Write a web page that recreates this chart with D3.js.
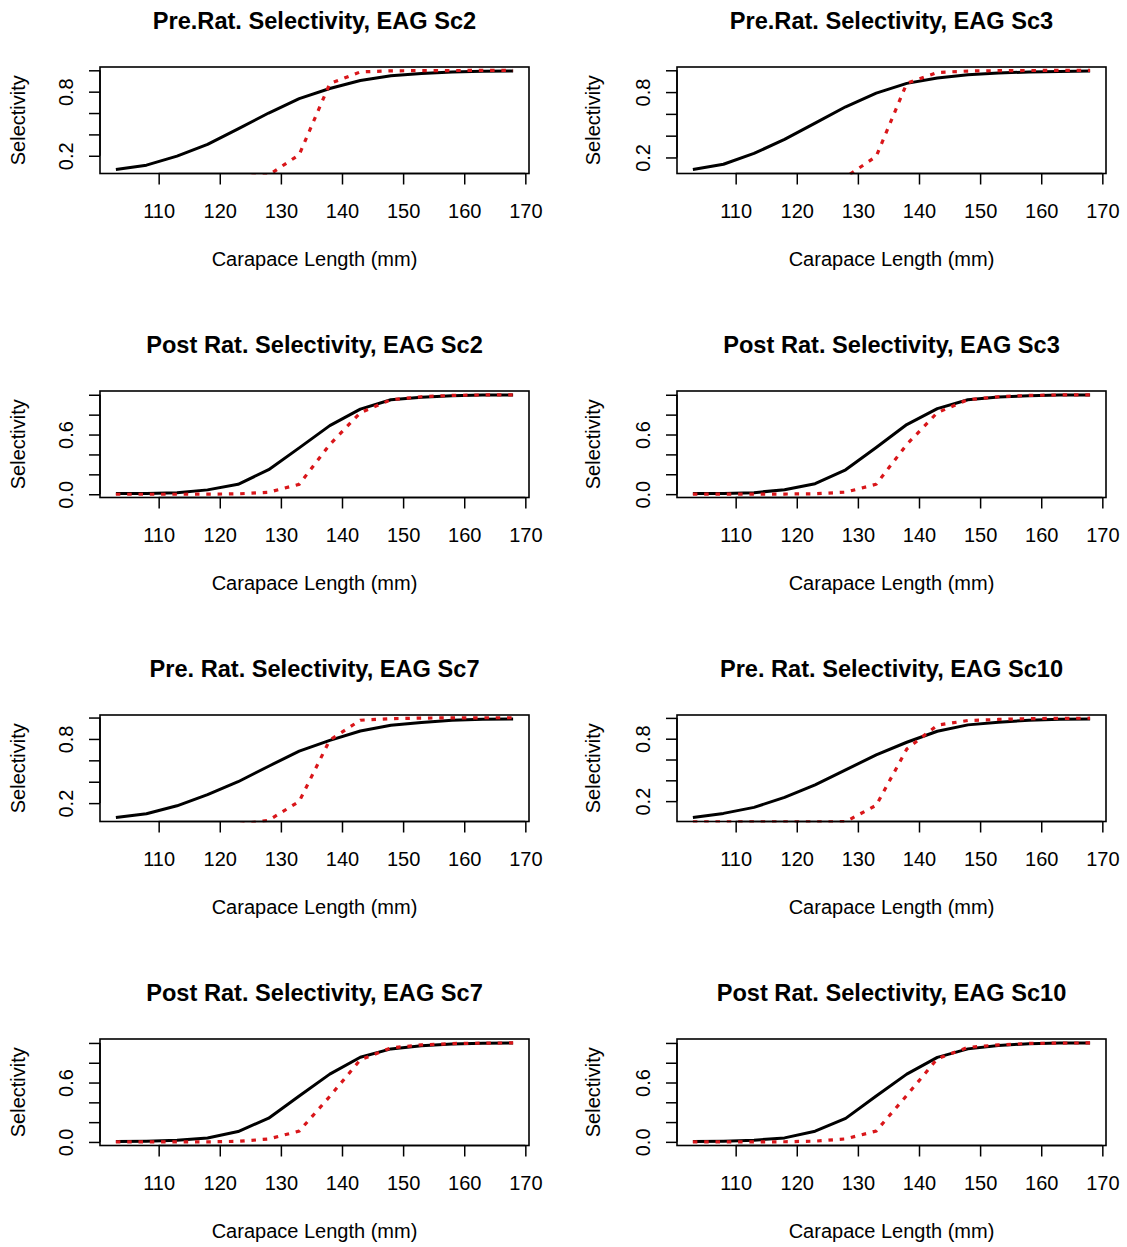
<!DOCTYPE html>
<html>
<head>
<meta charset="utf-8">
<script src="https://cdn.jsdelivr.net/npm/d3@7"></script>
<style>
  body { margin: 0; background: #fff; }
  svg { display: block; background: #fff; }
  text { font-family: "Liberation Sans", Arial, Helvetica, sans-serif; fill: #000; }
</style>
</head>
<body>
<svg id="chart" width="1127" height="1247"></svg>
<script>
// ---------------- data ----------------
const lengths = [103, 108, 113, 118, 123, 128, 133, 138, 143, 148, 153, 158, 163, 168];

const xTicks = [110, 120, 130, 140, 150, 160, 170];
const preYTicks = [0.2, 0.4, 0.6, 0.8, 1.0];
const preYLabels = [0.2, 0.8];
const postYTicks = [0.0, 0.2, 0.4, 0.6, 0.8, 1.0];
const postYLabels = [0.0, 0.6];

const panelTitles = [
  "Pre.Rat. Selectivity, EAG Sc2",
  "Pre.Rat. Selectivity, EAG Sc3",
  "Post Rat. Selectivity, EAG Sc2",
  "Post Rat. Selectivity, EAG Sc3",
  "Pre. Rat. Selectivity, EAG Sc7",
  "Pre. Rat. Selectivity, EAG Sc10",
  "Post Rat. Selectivity, EAG Sc7",
  "Post Rat. Selectivity, EAG Sc10"
];
const xAxisTitle = "Carapace Length (mm)";
const yAxisTitle = "Selectivity";

// black solid lines
const preSc2Black  = [0.071, 0.112, 0.197, 0.307, 0.452, 0.600, 0.735, 0.830, 0.905, 0.950, 0.970, 0.983, 0.990, 0.994];
const preSc3Black  = [0.089, 0.138, 0.237, 0.366, 0.515, 0.665, 0.790, 0.880, 0.930, 0.958, 0.975, 0.985, 0.990, 0.994];
const postSc2Black = [0.007, 0.007, 0.014, 0.044, 0.100, 0.247, 0.466, 0.690, 0.855, 0.950, 0.976, 0.990, 0.997, 0.998];
const postSc3Black = [0.006, 0.007, 0.015, 0.045, 0.105, 0.245, 0.470, 0.700, 0.860, 0.950, 0.977, 0.990, 0.997, 0.998];
const preSc7Black  = [0.065, 0.100, 0.175, 0.280, 0.400, 0.545, 0.686, 0.787, 0.874, 0.928, 0.953, 0.975, 0.984, 0.987];
const preSc10Black = [0.042, 0.082, 0.140, 0.236, 0.357, 0.500, 0.645, 0.766, 0.872, 0.933, 0.958, 0.978, 0.987, 0.990];
const postSc7Black = [0.004, 0.007, 0.016, 0.040, 0.105, 0.240, 0.465, 0.685, 0.855, 0.940, 0.972, 0.990, 0.998, 1.000];
const postSc10Black= [0.003, 0.007, 0.017, 0.040, 0.108, 0.237, 0.464, 0.685, 0.854, 0.940, 0.973, 0.993, 1.000, 1.000];

// red dotted lines
const preSc2Red   = [0.000, 0.000, 0.000, 0.000, 0.000, 0.020, 0.210, 0.875, 0.985, 0.995, 0.997, 0.998, 0.999, 1.000];
const preSc3Red   = [0.000, 0.000, 0.000, 0.000, 0.000, 0.020, 0.210, 0.880, 0.980, 0.993, 0.997, 0.998, 0.999, 1.000];
const postSc2Red  = [0.000, 0.000, 0.000, 0.001, 0.004, 0.020, 0.100, 0.500, 0.820, 0.950, 0.980, 0.993, 0.998, 0.999];
const postSc3Red  = [0.000, 0.000, 0.000, 0.001, 0.004, 0.020, 0.100, 0.500, 0.820, 0.950, 0.980, 0.993, 0.998, 0.999];
const preSc7Red   = [0.000, 0.000, 0.000, 0.000, 0.000, 0.040, 0.216, 0.790, 0.975, 0.990, 0.995, 0.997, 0.998, 0.998];
const preSc10Red  = [0.000, 0.000, 0.000, 0.000, 0.000, 0.003, 0.160, 0.700, 0.930, 0.975, 0.985, 0.993, 0.996, 0.997];
const postSc7Red  = [0.000, 0.000, 0.000, 0.001, 0.006, 0.030, 0.110, 0.460, 0.830, 0.950, 0.980, 0.994, 0.998, 1.000];
const postSc10Red = [0.000, 0.000, 0.000, 0.001, 0.007, 0.030, 0.110, 0.470, 0.840, 0.955, 0.980, 0.995, 0.999, 1.000];

// table built from the arrays above
const panels = [
  { title: panelTitles[0], black: preSc2Black,   red: preSc2Red,   yTicks: preYTicks,  yLabels: preYLabels },
  { title: panelTitles[1], black: preSc3Black,   red: preSc3Red,   yTicks: preYTicks,  yLabels: preYLabels },
  { title: panelTitles[2], black: postSc2Black,  red: postSc2Red,  yTicks: postYTicks, yLabels: postYLabels },
  { title: panelTitles[3], black: postSc3Black,  red: postSc3Red,  yTicks: postYTicks, yLabels: postYLabels },
  { title: panelTitles[4], black: preSc7Black,   red: preSc7Red,   yTicks: preYTicks,  yLabels: preYLabels },
  { title: panelTitles[5], black: preSc10Black,  red: preSc10Red,  yTicks: preYTicks,  yLabels: preYLabels },
  { title: panelTitles[6], black: postSc7Black,  red: postSc7Red,  yTicks: postYTicks, yLabels: postYLabels },
  { title: panelTitles[7], black: postSc10Black, red: postSc10Red, yTicks: postYTicks, yLabels: postYLabels }
];

// ---------------- layout ----------------
const colX = [100, 677];
const rowY = [67, 391, 715, 1039];
const boxW = 429;
const boxH = 106.5;
const redColor = "#d9161a";

const svg = d3.select("#chart");

// R-style 4% padded range
function padded(ext) {
  const d = (ext[1] - ext[0]) * 0.04;
  return [ext[0] - d, ext[1] + d];
}

panels.forEach((p, i) => {
  const col = i % 2, row = Math.floor(i / 2);
  const g = svg.append("g").attr("transform", `translate(${colX[col]},${rowY[row]})`);

  const x = d3.scaleLinear().domain(padded(d3.extent(lengths))).range([0, boxW]);
  const y = d3.scaleLinear().domain(padded(d3.extent(p.black))).range([boxH, 0]);

  const clipId = "clip" + i;
  g.append("clipPath").attr("id", clipId)
    .append("rect").attr("x", -0.5).attr("y", -0.5).attr("width", boxW + 1).attr("height", boxH + 1.5);

  const line = d3.line().x((d, k) => x(lengths[k])).y(d => y(d));

  const plot = g.append("g").attr("clip-path", `url(#${clipId})`);
  plot.append("path").datum(p.black)
    .attr("d", line).attr("fill", "none")
    .attr("stroke", "#000").attr("stroke-width", 3).attr("stroke-linejoin", "round");
  plot.append("path").datum(p.red)
    .attr("d", line).attr("fill", "none")
    .attr("stroke", redColor).attr("stroke-width", 3.2)
    .attr("stroke-dasharray", "4.5 6.8");

  // box
  g.append("rect").attr("x", 0).attr("y", 0).attr("width", boxW).attr("height", boxH)
    .attr("fill", "none").attr("stroke", "#000").attr("stroke-width", 1.6);

  // x axis
  const xa = g.append("g").attr("transform", `translate(0,${boxH})`)
    .call(d3.axisBottom(x).tickValues(xTicks).tickSize(11).tickSizeOuter(0).tickFormat(d3.format("d")));
  xa.select(".domain").remove();
  xa.append("line").attr("x1", x(xTicks[0])).attr("x2", x(xTicks[xTicks.length - 1]))
    .attr("y1", 0).attr("y2", 0).attr("stroke", "#000").attr("stroke-width", 1.5);
  xa.selectAll(".tick line").attr("stroke-width", 1.5);
  xa.selectAll(".tick text").attr("y", 44).attr("dy", null)
    .style("font-size", "20px").style("font-family", '"Liberation Sans", Arial, sans-serif');

  // y axis
  const fmt = d3.format(".1f");
  const ya = g.append("g")
    .call(d3.axisLeft(y).tickValues(p.yTicks).tickSize(11).tickSizeOuter(0)
      .tickFormat(d => p.yLabels.some(v => Math.abs(v - d) < 1e-9) ? fmt(d) : ""));
  ya.select(".domain").remove();
  const yt = p.yTicks;
  ya.append("line").attr("x1", 0).attr("x2", 0)
    .attr("y1", y(yt[0])).attr("y2", y(yt[yt.length - 1]))
    .attr("stroke", "#000").attr("stroke-width", 1.5);
  ya.selectAll(".tick line").attr("stroke-width", 1.5);
  ya.selectAll(".tick text")
    .attr("x", null).attr("dy", null)
    .attr("text-anchor", "middle")
    .attr("transform", "translate(-27.5,0) rotate(-90)")
    .style("font-size", "20px").style("font-family", '"Liberation Sans", Arial, sans-serif');

  // titles
  g.append("text").attr("x", boxW / 2).attr("y", -38.5)
    .attr("text-anchor", "middle").style("font-size", "23.6px").style("font-weight", "bold")
    .text(p.title);
  g.append("text").attr("x", boxW / 2).attr("y", 199)
    .attr("text-anchor", "middle").style("font-size", "20px")
    .text(xAxisTitle);
  g.append("text")
    .attr("transform", `translate(${col === 0 ? -75 : -77},${boxH / 2}) rotate(-90)`)
    .attr("text-anchor", "middle").style("font-size", "20px")
    .text(yAxisTitle);
});
</script>
</body>
</html>
